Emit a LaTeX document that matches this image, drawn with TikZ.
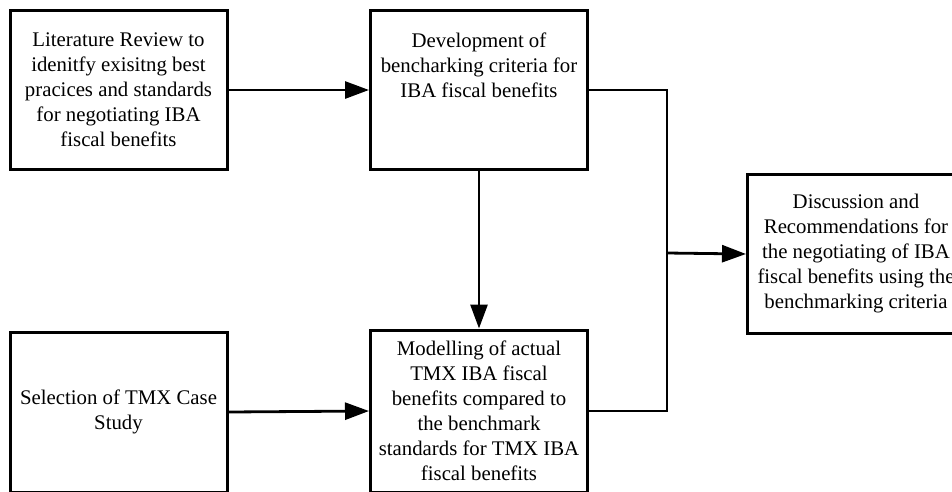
\documentclass[tikz,border=0pt]{standalone}
\usepackage{fontspec}
\setmainfont{Liberation Serif}
\usetikzlibrary{arrows.meta}
\begin{document}
\begin{tikzpicture}[x=1pt,y=-1pt,
  box/.style={draw, line width=3pt, minimum width=217pt, minimum height=159pt,
    inner sep=0pt, align=center, font=\fontsize{20.8}{25}\selectfont},
  conn/.style={line width=2.8pt},
  arr/.style={conn, -{Triangle[length=24pt,width=17pt]}}]
\useasboundingbox (0,0) rectangle (952,491);
\node[box] (A) at (118.5,90) {Literature Review to\\idenitfy exisitng best\\pracices and standards\\for negotiating IBA\\fiscal benefits};
\node[box] (B) at (479,90) {Development of\\bencharking criteria for\\IBA fiscal benefits\\[25pt]};
\node[box, minimum height=160pt] (C) at (118.5,412) {Selection of TMX Case\\Study};
\node[box, minimum height=162pt] (D) at (479,411) {Modelling of actual\\TMX IBA fiscal\\benefits compared to\\the benchmark\\standards for TMX IBA\\fiscal benefits};
\node[box] (E) at (856,254) {Discussion and\\Recommendations for\\the negotiating of IBA\\fiscal benefits using the\\benchmarking criteria};
\coordinate (j) at (667,253);
\draw[arr] (A.east) -- (B.west);
\draw[arr] (C.east) -- (D.west);
\draw[arr] (B.south) -- (D.north);
\draw[conn] (B.east) -| (j);
\draw[conn] (D.east) -| (j);
\draw[arr] (j) -- (E.west);
\end{tikzpicture}
\end{document}
